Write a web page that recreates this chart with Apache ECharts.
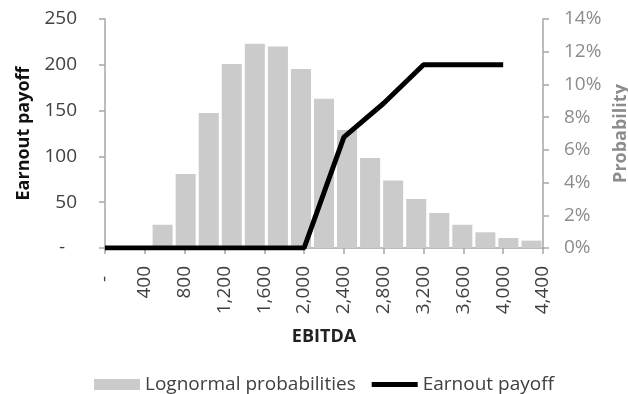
<!DOCTYPE html>
<html>
<head>
<meta charset="utf-8">
<script src="https://cdn.jsdelivr.net/npm/echarts@6/dist/echarts.min.js"></script>
<style>html,body{margin:0;padding:0;background:#fff}#c{width:628px;height:394px}</style>
</head>
<body>
<div id="c"></div>
<script>
// Earnout payoff line (primary axes)
const ebitdaPoints = [0, 400, 800, 1200, 1600, 2000, 2400, 2800, 3200, 3600, 4000];
const earnoutPayoff = [0, 0, 0, 0, 0, 0, 121, 158, 200, 200, 200];
// Lognormal probability bars (secondary axes, 19 category slots)
const binSlots = ['1','2','3','4','5','6','7','8','9','10','11','12','13','14','15','16','17','18','19'];
const probabilities = [null, null, 1.42, 4.52, 8.25, 11.25, 12.49, 12.32, 10.94, 9.13, 7.22, 5.50, 4.13, 3.00, 2.14, 1.42, 0.96, 0.61, 0.45];
const xTickMax = 4400, xTickStep = 400;
const leftMax = 250, leftStep = 50;
const rightMax = 14, rightStep = 2;

const FONT = '"Open Sans", sans-serif';
const FS = 19;
const TS = 18;
const axisGray = '#a6a6a6';
const chart = echarts.init(document.getElementById('c'));
chart.setOption({
  animation: false,
  textStyle: {fontFamily: FONT},
  grid: {left: 105, right: 85, top: 19, bottom: 146, containLabel: false, outerBoundsMode: 'none'},
  legend: {
    left: 89, top: 370, itemWidth: 46, itemHeight: 11, itemGap: 16,
    textStyle: {fontFamily: FONT, fontSize: FS, color: '#404040'},
    data: [
      {name: 'Lognormal probabilities', icon: 'rect'},
      {name: 'Earnout payoff', icon: 'path://M0,0H100V11H0Z'}
    ]
  },
  xAxis: [
    {
      type: 'value', min: 0, max: xTickMax, interval: xTickStep, position: 'bottom',
      axisLine: {show: true, lineStyle: {color: axisGray, width: 1.5}},
      axisTick: {show: true, length: 6, lineStyle: {color: axisGray, width: 1.5}},
      splitLine: {show: false},
      axisLabel: {rotate: 90, fontSize: FS, color: '#404040', margin: 18, fontFamily: FONT,
        formatter: v => v === 0 ? '-  ' : v.toLocaleString('en-US')},
      name: 'EBITDA', nameLocation: 'middle', nameGap: 80,
      nameTextStyle: {fontSize: TS, fontWeight: 'bold', color: '#222', fontFamily: FONT}
    },
    {
      type: 'category', data: binSlots, show: false, boundaryGap: true, position: 'bottom'
    }
  ],
  yAxis: [
    {
      type: 'value', min: 0, max: leftMax, interval: leftStep, position: 'left',
      axisLine: {show: true, lineStyle: {color: axisGray, width: 1.5}},
      axisTick: {show: true, length: 6, lineStyle: {color: axisGray, width: 1.5}},
      splitLine: {show: false},
      axisLabel: {fontSize: FS, color: '#404040', margin: 28, fontFamily: FONT,
        formatter: v => v === 0 ? '{d|-}' : String(v),
        rich: {d: {fontSize: FS, color: '#404040', fontFamily: FONT, padding: [0, 12, 0, 0]}}},
      name: 'Earnout payoff', nameLocation: 'middle', nameGap: 72, nameRotate: 90,
      nameTextStyle: {fontSize: TS, fontWeight: 'bold', color: '#111', fontFamily: FONT}
    },
    {
      type: 'value', min: 0, max: rightMax, interval: rightStep, position: 'right',
      axisLine: {show: true, lineStyle: {color: axisGray, width: 1.5}},
      axisTick: {show: true, length: 6, lineStyle: {color: axisGray, width: 1.5}},
      splitLine: {show: false},
      axisLabel: {fontSize: FS, color: '#8c8c8c', margin: 21, fontFamily: FONT,
        formatter: v => v + '%'},
      name: 'Probability', nameLocation: 'middle', nameGap: 60, nameRotate: 90,
      nameTextStyle: {fontSize: TS, fontWeight: 'bold', color: '#8c8c8c', fontFamily: FONT}
    }
  ],
  series: [
    {
      name: 'Lognormal probabilities', type: 'bar', xAxisIndex: 1, yAxisIndex: 1,
      data: probabilities, barCategoryGap: '13%',
      itemStyle: {color: '#cbcbcb'}, z: 1
    },
    {
      name: 'Earnout payoff', type: 'line', xAxisIndex: 0, yAxisIndex: 0,
      data: ebitdaPoints.map((x, i) => [x, earnoutPayoff[i]]),
      symbol: 'none', lineStyle: {color: '#000', width: 5}, itemStyle: {color: '#000'}, z: 5
    }
  ]
});
</script>
</body>
</html>
